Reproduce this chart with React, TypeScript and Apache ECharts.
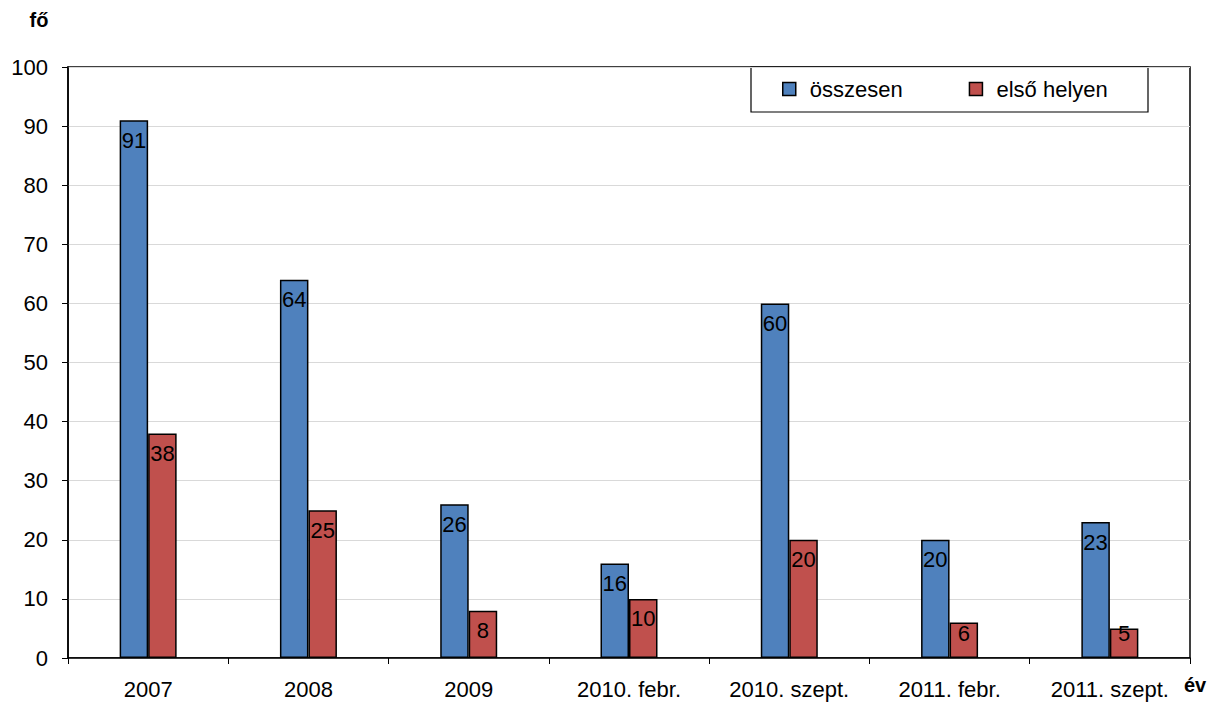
import React, { useEffect, useRef } from "react";
import * as echarts from "echarts";

const categories = ["2007", "2008", "2009", "2010. febr.", "2010. szept.", "2011. febr.", "2011. szept."];
const totalValues = [91, 64, 26, 16, 60, 20, 23];
const firstPlaceValues = [38, 25, 8, 10, 20, 6, 5];
const seriesNames = ["összesen", "első helyen"];
const yTicks = { min: 0, max: 100, interval: 10 };

const FONT = "'Liberation Sans', Arial, sans-serif";
const GRID = { left: 68, top: 67, right: 21, bottom: 46 };
const PLOT_H = 704 - GRID.top - GRID.bottom;

function labelCenter(v: number) {
  const h = (v / (yTicks.max - yTicks.min)) * PLOT_H;
  return Math.min(20, h - 25);
}

function buildData(values: number[]) {
  return values.map((v) => ({
    value: v,
    label: { position: ["50%", labelCenter(v)] as any },
  }));
}

export default function App() {
  const ref = useRef<HTMLDivElement>(null);
  useEffect(() => {
    if (!ref.current) return;
    const chart = echarts.init(ref.current, undefined, { renderer: "svg" });
    const labelStyle = {
      show: true,
      color: "#000",
      fontSize: 22,
      fontFamily: FONT,
      align: "center",
      verticalAlign: "middle",
    };
    chart.setOption({
      animation: false,
      backgroundColor: "#fff",
      textStyle: { fontFamily: FONT },
      grid: {
        left: GRID.left,
        top: GRID.top,
        right: GRID.right,
        bottom: GRID.bottom,
        show: true,
        borderColor: "#000",
        borderWidth: 1.5,
      },
      legend: {
        left: 782,
        top: 78,
        icon: "rect",
        itemWidth: 13,
        itemHeight: 13,
        itemGap: 66,
        padding: 0,
        itemStyle: { borderColor: "#000", borderWidth: 1.5 },
        textStyle: { fontSize: 22, color: "#000", fontFamily: FONT, padding: [0, 0, 0, 9] },
        data: seriesNames,
      },
      graphic: [
        {
          type: "rect",
          shape: { x: 751, y: 67, width: 397, height: 45 },
          style: { fill: "#fff", stroke: "#000", lineWidth: 1.2 },
          z: 0,
          zlevel: 0,
        },
        {
          type: "text",
          x: 39,
          y: 20,
          style: { text: "fő", font: `bold 20px ${FONT}`, fill: "#000", align: "center", verticalAlign: "middle" },
        },
        {
          type: "text",
          x: 1195,
          y: 685,
          style: { text: "év", font: `bold 20px ${FONT}`, fill: "#000", align: "center", verticalAlign: "middle" },
        },
      ],
      xAxis: {
        type: "category",
        data: categories,
        axisLine: { lineStyle: { color: "#000", width: 1.5 } },
        axisTick: { show: true, length: 6, lineStyle: { color: "#000" } },
        axisLabel: { color: "#000", fontSize: 22, margin: 20, fontFamily: FONT, interval: 0 },
        splitLine: { show: false },
      },
      yAxis: {
        type: "value",
        min: yTicks.min,
        max: yTicks.max,
        interval: yTicks.interval,
        axisLine: { show: true, lineStyle: { color: "#000", width: 1.5 } },
        axisTick: { show: true, length: 6, lineStyle: { color: "#000" } },
        axisLabel: { color: "#000", fontSize: 22, margin: 20, fontFamily: FONT },
        splitLine: { show: true, lineStyle: { color: "#d9d9d9", width: 1 } },
      },
      series: [
        {
          name: seriesNames[0],
          type: "bar",
          data: buildData(totalValues),
          barWidth: 28.5,
          barGap: "0%",
          itemStyle: { color: "#4F81BD", borderColor: "#000", borderWidth: 1.5 },
          label: labelStyle,
          z: 3,
        },
        {
          name: seriesNames[1],
          type: "bar",
          data: buildData(firstPlaceValues),
          barWidth: 28.5,
          barGap: "0%",
          itemStyle: { color: "#C0504D", borderColor: "#000", borderWidth: 1.5 },
          label: labelStyle,
          z: 3,
        },
      ],
    });
    return () => chart.dispose();
  }, []);
  return (
    <div
      ref={ref}
      style={{ position: "fixed", left: 0, top: 0, width: 1211, height: 704 }}
    />
  );
}
